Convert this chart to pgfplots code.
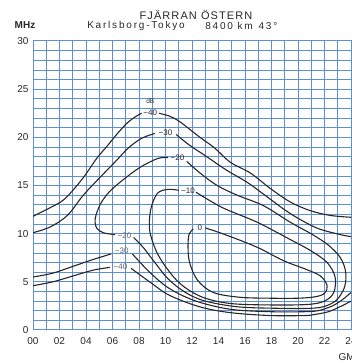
\documentclass[border=0pt]{standalone}
\usepackage{fontspec}
\setmainfont{Liberation Sans}
\newfontfamily\titlefont[LetterSpace=10]{Liberation Sans}
\newfontfamily\subfont[LetterSpace=18]{Liberation Sans}
\usepackage{pgfplots}
\pgfplotsset{compat=1.18}
\definecolor{gridblue}{RGB}{95,143,208}
\definecolor{ink}{RGB}{40,40,40}
\tikzset{ct/.style={draw=ink, line width=1.1pt, mark=none, smooth, tension=0.55}}
\begin{document}
\begin{tikzpicture}
\begin{axis}[
  at={(0,0)}, anchor=south west, scale only axis,
  width=318pt, height=289pt,
  xmin=0, xmax=24, ymin=0, ymax=30,
  xtick={0,2,...,24},
  xticklabels={00,02,04,06,08,10,12,14,16,18,20,22,24},
  ytick={0,5,10,15,20,25,30},
  yticklabels={0,5,10,15,20,25,30},
  minor xtick={1,3,...,23},
  minor ytick={1,2,3,4,6,7,8,9,11,12,13,14,16,17,18,19,21,22,23,24,26,27,28,29},
  grid=both,
  major grid style={draw=gridblue, line width=1.0pt},
  minor grid style={draw=gridblue, line width=0.7pt},
  axis line style={draw=gridblue, line width=1.0pt},
  tick style={draw=none},
  ticklabel style={font=\fontsize{10}{12}\selectfont, text=ink},
  xticklabel style={yshift=-4pt},
  yticklabel style={xshift=-1pt},
]
% -40 dB
\addplot[ct] coordinates {(0,11.8) (1.3,12.7) (2.3,13.5) (3.2,14.8) (4,16.2) (4.8,17.8) (5.6,19.1) (6.5,20.6) (7.2,21.6) (7.8,22.2) (8.2,22.5)};
\addplot[ct] coordinates {(9.5,22.5) (10.3,22.2) (11.1,21.6) (12.6,20.0) (13.7,18.9) (14.9,17.4) (16.4,16.3) (17.9,14.7) (19.4,13.3) (20.9,12.4) (22.4,11.9) (24,11.7)};
\addplot[ct] coordinates {(0,4.6) (1.5,5.0) (3,5.6) (4.5,6.2) (5.8,6.5)};
\addplot[ct] coordinates {(7.4,6.4) (8.8,5.0) (10.3,3.6) (12.6,2.4) (14.9,1.8) (17.9,1.5) (20.5,1.5) (21.2,1.6) (22.3,1.9) (23.3,2.5) (24,3.0)};
% -30 dB
\addplot[ct] coordinates {(0,10.1) (1.3,10.7) (2.6,11.9) (3.8,14.0) (5.1,15.9) (6.3,17.6) (7.2,18.9) (8.2,19.9) (9.2,20.4)};
\addplot[ct] coordinates {(10.8,20.3) (11.8,19.2) (13.1,18.0) (14.6,16.6) (16.2,15.3) (17.4,14.1) (19.4,12.1) (21.4,10.6) (23.2,9.9) (24,9.7)};
\addplot[ct] coordinates {(0,5.5) (1.5,5.9) (3,6.6) (4.5,7.3) (5.9,7.9)};
\addplot[ct] coordinates {(7.5,7.9) (8.8,6.0) (10.3,4.3) (12.3,3.0) (14.9,2.15) (17.9,1.9) (20.5,1.9) (21.5,2.0) (22.6,2.5) (23.4,3.2) (24,3.9)};
% -20 dB
\addplot[ct] coordinates {(10.2,17.9) (9.4,17.8) (8.1,16.9) (6.9,15.7) (5.8,14.4) (5.1,13.1) (4.7,11.6) (4.8,10.6) (5.3,10.1) (6.2,9.9)};
\addplot[ct] coordinates {(7.6,9.6) (8.3,8.6) (9.2,7.0) (10.2,5.3) (11.5,3.9) (13.0,3.0) (15.5,2.4) (18.6,2.25) (20.9,2.25) (22.0,2.45) (22.9,3.1) (23.5,4.4) (23.6,6.0) (23.2,7.5) (22.3,8.8) (21.1,9.9) (19.4,11.2) (17.4,12.9) (15.4,14.0) (13.9,15.0) (12.6,16.3) (11.6,17.5)};
% -10 dB
\addplot[ct] coordinates {(12.3,14.3) (14.3,12.7) (16.9,11.2) (19.4,9.4) (21.0,8.2) (22.2,7.0) (22.8,5.5) (22.7,3.9) (22.0,3.0) (20.7,2.65) (17.9,2.6) (14.9,2.75) (12.8,3.4) (11.2,4.7) (10.1,6.4) (9.3,8.2) (8.8,10.4) (8.9,12.6) (9.4,14.2) (10.2,14.6) (11.0,14.5)};
% 0 dB
\addplot[ct] coordinates {(13.0,10.6) (14.5,9.9) (16.9,8.6) (18.9,7.2) (20.6,6.3) (21.7,5.6) (22.2,4.6) (22.0,3.8) (21.3,3.45) (20.0,3.3) (17.9,3.3) (15.6,3.4) (13.6,3.9) (12.4,5.2) (11.8,7.1) (11.7,8.9) (11.8,10.0) (12.1,10.5)};
% labels
\node[font=\fontsize{6.5}{7}\selectfont, text=ink] at (axis cs:8.85,23.8) {dB};
\node[font=\fontsize{8}{9}\selectfont, text=ink] at (axis cs:8.85,22.6) {−40};
\node[font=\fontsize{8}{9}\selectfont, text=ink] at (axis cs:10.0,20.5) {−30};
\node[font=\fontsize{8}{9}\selectfont, text=ink] at (axis cs:10.9,17.9) {−20};
\node[font=\fontsize{8}{9}\selectfont, text=ink] at (axis cs:11.7,14.5) {−10};
\node[font=\fontsize{8}{9}\selectfont, text=ink] at (axis cs:12.6,10.6) {0};
\node[font=\fontsize{8}{9}\selectfont, text=black!60] at (axis cs:6.9,9.8) {−20};
\node[font=\fontsize{8}{9}\selectfont, text=black!60] at (axis cs:6.7,8.2) {−30};
\node[font=\fontsize{8}{9}\selectfont, text=black!60] at (axis cs:6.6,6.6) {−40};
\end{axis}
\node[font=\titlefont\fontsize{11}{13}\selectfont, text=ink] at (163pt,315pt) {FJÄRRAN ÖSTERN};
\node[font=\subfont\fontsize{10}{12}\selectfont, text=ink] at (103pt,304pt) {Karlsborg-Tokyo};
\node[font=\subfont\fontsize{10}{12}\selectfont, text=ink] at (196pt,304pt) {8400 km};
\node[font=\subfont\fontsize{10}{12}\selectfont, text=ink] at (235pt,304pt) {43°};
\node[font=\fontsize{10}{12}\selectfont\bfseries, text=ink] at (-8pt,305pt) {MHz};
\node[font=\fontsize{10}{12}\selectfont, text=ink, anchor=west] at (302pt,-27pt) {GMT};
\pgfresetboundingbox
\path[use as bounding box] (-33pt,-33pt) rectangle (318pt,330pt);
\end{tikzpicture}
\end{document}
